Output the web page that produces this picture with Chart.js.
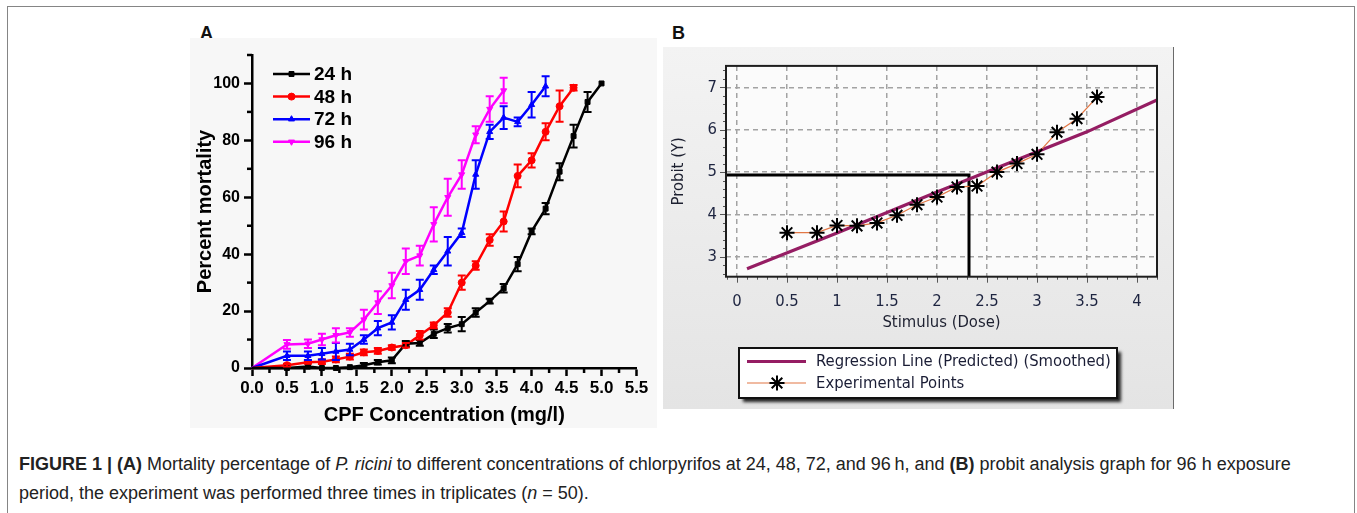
<!DOCTYPE html>
<html><head><meta charset="utf-8">
<script src="https://cdn.jsdelivr.net/npm/chart.js@4.4.1/dist/chart.umd.min.js"></script>
<style>
html,body{margin:0;padding:0;background:#fff;width:1357px;height:513px;overflow:hidden;}
.abs{position:absolute;}
#frame{left:7px;top:6px;width:1348px;height:530px;border:1px solid #858585;box-sizing:border-box;}
.plabel{font:bold 18px "Liberation Sans",Arial,sans-serif;color:#111;line-height:20px;}
#panelA{left:190px;top:38px;width:467px;height:390px;background:#f7f7f7;}
#panelB{left:663px;top:47px;width:510px;height:362px;background:linear-gradient(#f3f3f3,#e4e4e4);border-right:1px solid #6a6a6a;}
canvas{display:block;}
.cap{left:19px;font:18px "Liberation Sans",Arial,sans-serif;color:#222;white-space:nowrap;line-height:22px;}
</style></head>
<body>
<div id="frame" class="abs"></div>
<div class="abs plabel" style="left:200px;top:23px">A</div>
<div class="abs plabel" style="left:672px;top:23px">B</div>
<div id="panelA" class="abs"><canvas id="cA" width="467" height="390"></canvas></div>
<div id="panelB" class="abs"><canvas id="cB" width="510" height="362"></canvas></div>
<div class="abs cap" style="top:453px"><b>FIGURE 1 | (A)</b> Mortality percentage of <i>P. ricini</i> to different concentrations of chlorpyrifos at 24, 48, 72, and 96&#8201;h, and <b>(B)</b> probit analysis graph for 96 h exposure</div>
<div class="abs cap" style="top:482px">period, the experiment was performed three times in triplicates (<i>n</i> = 50).</div>
<script>
// ---------- Panel A data ----------
const concentrations = [0,0.5,0.8,1.0,1.2,1.4,1.6,1.8,2.0,2.2,2.4,2.6,2.8,3.0,3.2,3.4,3.6,3.8,4.0,4.2,4.4,4.6,4.8,5.0];
const seriesLabelsA = ['24 h','48 h','72 h','96 h'];
const mort24 = [0,0,0.5,0,0,0.3,1,2,2.7,8.5,8.8,12,14,15.4,19.5,23.5,28,36.5,48,56,69,81.5,93.5,100];
const err24  = [0,0,0,0,0,0,0.8,0.8,1,1,1,1.5,1.5,2.5,1.5,0.8,1.5,2.5,1,2,3,4,3.5,0];
const mort48 = [0,1,2,2.2,3,4,5.5,6,7.2,8,11.5,15,19.5,30,36,45,51.5,67.5,73,83,92,98.5];
const err48  = [0,0.5,0.5,0.8,1,1,1,1,0.8,0.8,1.5,1,1.5,2.5,1.5,2,3.5,4,2.5,3,5.5,1];
const mort72 = [0,4.3,4.3,5,5.8,6.5,10,14,16,24,27.5,34.5,41,47.5,68,83,88,86.5,92.5,99];
const err72  = [0,1.5,1.5,2,3,2,1.5,2.5,2.5,3.5,3.5,1.5,5,1.5,5,2.5,4,1.5,4.5,3.5];
const mort96 = [0,8.3,8.5,10,11.5,12.5,17,23,29,37.5,39.5,50.5,60,68,82,91,97.5];
const err96  = [0,1.5,1.5,2,2.5,1.5,3.5,4,4.5,4.5,3.5,6,6.5,5,3,4.5,4.5];
const xTicksA = [0,0.5,1,1.5,2,2.5,3,3.5,4,4.5,5,5.5];
const yTicksA = [0,20,40,60,80,100];
const xMinorA = [0.25,0.75,1.25,1.75,2.25,2.75,3.25,3.75,4.25,4.75,5.25];
const yMinorA = [10,30,50,70,90,110];

// ---------- Panel B data ----------
const doses   = [0.5,0.8,1.0,1.2,1.4,1.6,1.8,2.0,2.2,2.4,2.6,2.8,3.0,3.2,3.4,3.6];
const probits = [3.57,3.57,3.74,3.73,3.80,3.98,4.23,4.41,4.65,4.67,5.00,5.20,5.42,5.94,6.26,6.77];
const regDose   = [0.1,1.0,2.0,3.0,3.5,4.2];
const regProbit = [2.72,3.56,4.53,5.48,5.95,6.70];
const lc50Dose = 2.32;
const lc50Probit = 4.93;
const xTicksB = [0,0.5,1,1.5,2,2.5,3,3.5,4];
const yTicksB = [3,4,5,6,7];
const legendLabelsB = ['Regression Line (Predicted) (Smoothed)','Experimental Points'];

// ---------- styles ----------
const FA = '"Liberation Sans", Arial, Helvetica, sans-serif';
const FB = '"DejaVu Sans Condensed", "DejaVu Sans", sans-serif';
const colorsA = ['#000000','#ff0000','#0000ff','#ff00ff'];
const markersA = ['rect','circle','triangle','triangle'];
const markerRotA = [0,0,0,180];

const valuesA = [mort24, mort48, mort72, mort96];
const errorsA = [err24, err48, err72, err96];
const datasetsA = valuesA.map((vals,k)=>({
  label: seriesLabelsA[k],
  data: vals.map((v,i)=>({x:concentrations[i], y:v})),
  errorBars: errorsA[k],
  borderColor: colorsA[k], backgroundColor: colorsA[k],
  pointBorderColor: colorsA[k], pointBackgroundColor: colorsA[k],
  pointStyle: markersA[k], pointRotation: markerRotA[k],
  pointRadius: c => c.dataIndex === 0 ? 0 : 3.5,
  pointBorderWidth: 1, borderWidth: 2.5, tension: 0, clip: false
}));

const minorTicksA = {
  id:'minorTicksA',
  afterDraw(chart){
    const {ctx, chartArea:a, scales:{x,y}} = chart;
    ctx.save(); ctx.strokeStyle='#000'; ctx.lineWidth=2.5;
    xMinorA.forEach(v=>{const p=x.getPixelForValue(v); ctx.beginPath(); ctx.moveTo(p,a.bottom); ctx.lineTo(p,a.bottom+5); ctx.stroke();});
    yMinorA.forEach(v=>{const p=y.getPixelForValue(v); ctx.beginPath(); ctx.moveTo(a.left,p); ctx.lineTo(a.left-5,p); ctx.stroke();});
    ctx.restore();
  }
};
const errorBarsA = {
  id:'errorBarsA',
  afterDatasetsDraw(chart){
    const ctx = chart.ctx, ys = chart.scales.y;
    chart.data.datasets.forEach((ds,di)=>{
      if(!ds.errorBars) return;
      const meta = chart.getDatasetMeta(di);
      ctx.save(); ctx.strokeStyle = ds.borderColor; ctx.lineWidth = 2;
      meta.data.forEach((pt,i)=>{
        const e = ds.errorBars[i]; if(!e) return;
        const v = ds.data[i].y;
        const y1 = ys.getPixelForValue(v+e), y2 = ys.getPixelForValue(v-e);
        ctx.beginPath();
        ctx.moveTo(pt.x,y1); ctx.lineTo(pt.x,y2);
        ctx.moveTo(pt.x-4,y1); ctx.lineTo(pt.x+4,y1);
        ctx.moveTo(pt.x-4,y2); ctx.lineTo(pt.x+4,y2);
        ctx.stroke();
      });
      ctx.restore();
    });
  }
};
const legendA = {
  id:'legendA',
  afterDraw(chart){
    const ctx = chart.ctx;
    chart.data.datasets.forEach((ds,k)=>{
      const y = 36 + k*22.6;
      ctx.save();
      ctx.strokeStyle = ds.borderColor; ctx.fillStyle = ds.backgroundColor; ctx.lineWidth = 2.5;
      ctx.beginPath(); ctx.moveTo(83,y); ctx.lineTo(120,y); ctx.stroke();
      ctx.lineWidth = 1;
      Chart.helpers.drawPoint(ctx,{pointStyle:ds.pointStyle, rotation:ds.pointRotation, radius:3.5, borderWidth:1},101.5,y);
      ctx.fillStyle = '#000'; ctx.font = 'bold 19px ' + FA; ctx.textBaseline = 'middle'; ctx.textAlign='left';
      ctx.fillText(ds.label,124,y+1);
      ctx.restore();
    });
  }
};

new Chart(document.getElementById('cA'),{
  type:'line',
  data:{datasets:datasetsA},
  options:{
    responsive:false, animation:false,
    layout:{padding:{left:0,top:17,right:20.5,bottom:0}},
    plugins:{legend:{display:false}, tooltip:{enabled:false}},
    scales:{
      x:{type:'linear', min:0, max:5.5,
        afterBuildTicks:s=>{s.ticks = xTicksA.map(v=>({value:v}));},
        afterFit:s=>{s.height=60;},
        ticks:{callback:v=>Number(v).toFixed(1), font:{family:FA, weight:'bold', size:17}, color:'#000', padding:2, maxRotation:0, autoSkip:false},
        grid:{drawOnChartArea:false, drawTicks:true, tickLength:8, tickColor:'#000', tickWidth:2.5},
        border:{display:true, color:'#000', width:2.5},
        title:{display:true, text:'CPF Concentration (mg/l)', font:{family:FA, weight:'bold', size:20}, color:'#000', padding:{top:0,bottom:1}}
      },
      y:{type:'linear', min:0, max:110,
        afterBuildTicks:s=>{s.ticks = yTicksA.map(v=>({value:v}));},
        afterFit:s=>{s.width=62;},
        ticks:{font:{family:FA, weight:'bold', size:16}, color:'#000', padding:4},
        grid:{drawOnChartArea:false, drawTicks:true, tickLength:8, tickColor:'#000', tickWidth:2.5},
        border:{display:true, color:'#000', width:2.5},
        title:{display:true, text:'Percent mortality', font:{family:FA, weight:'bold', size:20}, color:'#000', padding:{top:3,bottom:0}}
      }
    }
  },
  plugins:[minorTicksA, errorBarsA, legendA]
});

// ---------- Panel B ----------
const xRangeB = [-0.11, 4.2];
const yRangeB = [2.53, 7.507];
const expData = doses.map((d,i)=>({x:d,y:probits[i]}));
const regData = regDose.map((d,i)=>({x:d,y:regProbit[i]}));
const guideData = [{x:xRangeB[0],y:lc50Probit},{x:lc50Dose,y:lc50Probit},{x:lc50Dose,y:yRangeB[0]}];

const frameB = {
  id:'frameB',
  beforeDraw(chart){
    const {ctx, chartArea:a} = chart;
    ctx.save(); ctx.fillStyle='#fbfbfb'; ctx.fillRect(a.left,a.top,a.right-a.left,a.bottom-a.top); ctx.restore();
  },
  afterDatasetsDraw(chart){
    const {ctx, chartArea:a, scales:{x,y}} = chart;
    ctx.save();
    ctx.strokeStyle='#555'; ctx.lineWidth=1;
    for(let v=-0.1; v<=4.2001; v+=0.1){
      const p = Math.round(x.getPixelForValue(v))+0.5;
      const major = Math.abs(v*2 - Math.round(v*2)) < 1e-6;
      ctx.beginPath(); ctx.moveTo(p,a.bottom); ctx.lineTo(p,a.bottom+(major?6:3)); ctx.stroke();
    }
    for(let v=2.6; v<=7.4001; v+=0.2){
      const p = Math.round(y.getPixelForValue(v))+0.5;
      const major = Math.abs(v - Math.round(v)) < 1e-6;
      ctx.beginPath(); ctx.moveTo(a.left,p); ctx.lineTo(a.left-(major?6:3),p); ctx.stroke();
    }
    ctx.strokeStyle='#1e1e1e'; ctx.lineWidth=2;
    ctx.strokeRect(a.left,a.top,a.right-a.left,a.bottom-a.top);
    ctx.restore();
  }
};
const legendB = {
  id:'legendB',
  afterDraw(chart){
    const ctx = chart.ctx;
    const reg = chart.data.datasets[1], exp = chart.data.datasets[0];
    ctx.save();
    ctx.shadowColor='rgba(0,0,0,0.85)'; ctx.shadowOffsetX=4; ctx.shadowOffsetY=4; ctx.shadowBlur=3;
    ctx.fillStyle='#fff'; ctx.fillRect(76,301,378,50);
    ctx.shadowColor='transparent';
    ctx.strokeStyle='#111'; ctx.lineWidth=2; ctx.strokeRect(76,301,378,50);
    ctx.strokeStyle=reg.borderColor; ctx.lineWidth=3;
    ctx.beginPath(); ctx.moveTo(84,314.5); ctx.lineTo(143,314.5); ctx.stroke();
    ctx.strokeStyle=exp.borderColor; ctx.lineWidth=1.2;
    ctx.beginPath(); ctx.moveTo(84,336); ctx.lineTo(143,336); ctx.stroke();
    ctx.strokeStyle='#000'; ctx.fillStyle='#000'; ctx.lineWidth=2;
    Chart.helpers.drawPoint(ctx,{pointStyle:'star', radius:7.5, borderWidth:2, rotation:0},114,336);
    ctx.fillStyle='#1a1d35'; ctx.font='16.5px '+FB; ctx.textBaseline='middle'; ctx.textAlign='left';
    ctx.fillText(legendLabelsB[0],153,315);
    ctx.fillText(legendLabelsB[1],153,337);
    ctx.restore();
  }
};

new Chart(document.getElementById('cB'),{
  type:'line',
  data:{datasets:[
    {label:legendLabelsB[1], data:expData, borderColor:'#e27745', borderWidth:1.2, pointStyle:'star', pointRadius:7.5,
     pointBorderColor:'#000', pointBackgroundColor:'#000', pointBorderWidth:2, tension:0, order:0},
    {label:legendLabelsB[0], data:regData, borderColor:'#951d63', borderWidth:3.2, pointRadius:0, tension:0, order:1},
    {label:'LC50', data:guideData, borderColor:'#000', borderWidth:3, pointRadius:0, tension:0, order:2}
  ]},
  options:{
    responsive:false, animation:false,
    layout:{padding:{left:0,top:10.7,right:16,bottom:0}},
    plugins:{legend:{display:false}, tooltip:{enabled:false}},
    scales:{
      x:{type:'linear', min:xRangeB[0], max:xRangeB[1],
        afterBuildTicks:s=>{s.ticks = xTicksB.map(v=>({value:v}));},
        afterFit:s=>{s.height=132.3;},
        ticks:{callback:v=>String(v), font:{family:FB, size:16.5}, color:'#1d2440', padding:15, maxRotation:0, autoSkip:false},
        grid:{color:'#a3a3a3', lineWidth:1.5, drawTicks:false},
        border:{display:false, dash:[5,4]},
        title:{display:true, text:'Stimulus (Dose)', font:{family:FB, size:16.5}, color:'#1d2030', padding:{top:0,bottom:76}}
      },
      y:{type:'linear', min:yRangeB[0], max:yRangeB[1],
        afterBuildTicks:s=>{s.ticks = yTicksB.map(v=>({value:v}));},
        afterFit:s=>{s.width=63;},
        ticks:{font:{family:FB, size:16.5}, color:'#1d2440', padding:9},
        grid:{color:'#a3a3a3', lineWidth:1.5, drawTicks:false},
        border:{display:false, dash:[5,4]},
        title:{display:true, text:'Probit (Y)', font:{family:FB, size:16.5}, color:'#1d2030', padding:{top:6,bottom:0}}
      }
    }
  },
  plugins:[frameB, legendB]
});
</script>
</body></html>
